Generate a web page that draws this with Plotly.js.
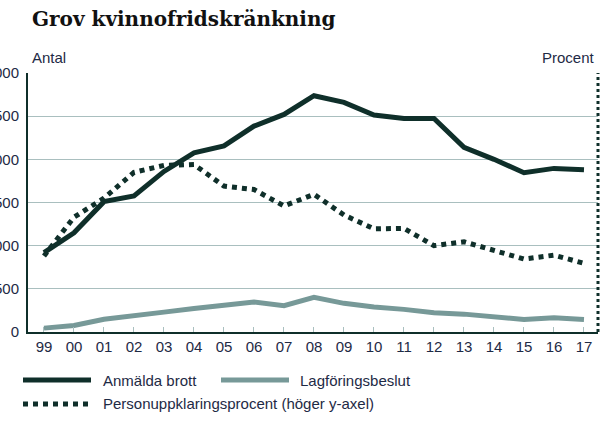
<!DOCTYPE html>
<html>
<head>
<meta charset="utf-8">
<script src="https://cdn.plot.ly/plotly-3.0.1.min.js"></script>
<style>html,body{margin:0;padding:0;background:#fff;}#chart{width:604px;height:430px;}</style>
</head>
<body>
<div id="chart"></div>
<script>
var years = ["99","00","01","02","03","04","05","06","07","08","09","10","11","12","13","14","15","16","17"];
var anmalda = [920,1150,1510,1575,1860,2075,2155,2385,2520,2737,2660,2513,2474,2474,2139,2000,1845,1895,1880];
var lagforing = [45,75,148,195,230,273,305,348,305,402,332,289,262,223,207,180,145,164,145];
var uppklaring = [17.6,26.6,31.0,37.0,38.6,38.8,33.8,33.0,29.2,31.9,27.1,23.9,24.0,20.0,20.9,18.8,16.9,17.8,15.9];

var idx = years.map(function(_, i){ return i; });
var dark = "#0f2f2a", grey = "#779998", grid = "#a9bfbf", txt = "#1e2a45";
var W = 604, H = 430, L = 28, R = 598, T = 73, B = 332;
function px(x){ return (x - L) / (R - L); }
function py(y){ return (B - y) / (B - T); }

var traces = [
  {x: idx, y: anmalda, type: "scatter", mode: "lines", name: "Anmälda brott",
   line: {color: dark, width: 5}, hoverinfo: "skip"},
  {x: idx, y: lagforing, type: "scatter", mode: "lines", name: "Lagföringsbeslut",
   line: {color: grey, width: 5}, hoverinfo: "skip"},
  {x: idx, y: uppklaring, type: "scatter", mode: "lines", name: "Personuppklaringsprocent (höger y-axel)",
   yaxis: "y2", line: {color: dark, width: 5, dash: "dot"}, hoverinfo: "skip"}
];

var f = {family: "Liberation Sans, Arial, sans-serif", size: 15, color: txt};

var shapes = [
  {type: "line", xref: "paper", yref: "paper", x0: 1, x1: 1, y0: 0, y1: 1,
   line: {color: dark, width: 3, dash: "dot"}},
  {type: "line", xref: "paper", yref: "paper", x0: px(23), x1: px(91), y0: py(380), y1: py(380),
   line: {color: dark, width: 5}},
  {type: "line", xref: "paper", yref: "paper", x0: px(221), x1: px(289), y0: py(380), y1: py(380),
   line: {color: grey, width: 5}},
  {type: "line", xref: "paper", yref: "paper", x0: px(23), x1: px(91), y0: py(404), y1: py(404),
   line: {color: dark, width: 5, dash: "dot"}}
];

var annotations = [
  {text: "Antal", xref: "paper", yref: "paper", x: px(30), y: py(58), xanchor: "left", yanchor: "middle", showarrow: false, font: f},
  {text: "Procent", xref: "paper", yref: "paper", x: px(597), y: py(58), xanchor: "right", yanchor: "middle", showarrow: false, font: f},
  {text: "Anmälda brott", xref: "paper", yref: "paper", x: px(101), y: py(380), xanchor: "left", yanchor: "middle", showarrow: false, font: f},
  {text: "Lagföringsbeslut", xref: "paper", yref: "paper", x: px(298), y: py(380), xanchor: "left", yanchor: "middle", showarrow: false, font: f},
  {text: "Personuppklaringsprocent (höger y-axel)", xref: "paper", yref: "paper", x: px(101), y: py(404), xanchor: "left", yanchor: "middle", showarrow: false, font: f}
];

var layout = {
  width: W, height: H,
  margin: {l: L, r: W - R, t: T, b: H - B, pad: 0},
  paper_bgcolor: "#fff", plot_bgcolor: "#fff",
  showlegend: false,
  title: {text: "<b>Grov kvinnofridskränkning</b>", xref: "container", yref: "container",
          x: 32 / W, xanchor: "left", y: 1 - 19 / H, yanchor: "middle",
          font: {family: "DejaVu Serif, serif", size: 20, color: "#111"}},
  xaxis: {range: [-0.533, 18.467], tickmode: "array", tickvals: idx, ticktext: years,
          showgrid: false, zeroline: false, showline: true, linecolor: dark, linewidth: 2,
          ticks: "inside", ticklen: 5, tickcolor: grid, tickwidth: 1,
          tickfont: f, fixedrange: true},
  yaxis: {range: [0, 3000], dtick: 500, showgrid: true, gridcolor: grid, gridwidth: 1,
          zeroline: false, showline: true, linecolor: dark, linewidth: 2, ticks: "",
          tickfont: f, ticklabelstandoff: 4, fixedrange: true},
  yaxis2: {range: [0, 60], overlaying: "y", side: "right", showgrid: false, zeroline: false,
           showline: false, showticklabels: false, ticks: "", fixedrange: true},
  shapes: shapes,
  annotations: annotations
};

Plotly.newPlot("chart", traces, layout, {staticPlot: true, displayModeBar: false});
</script>
</body>
</html>
